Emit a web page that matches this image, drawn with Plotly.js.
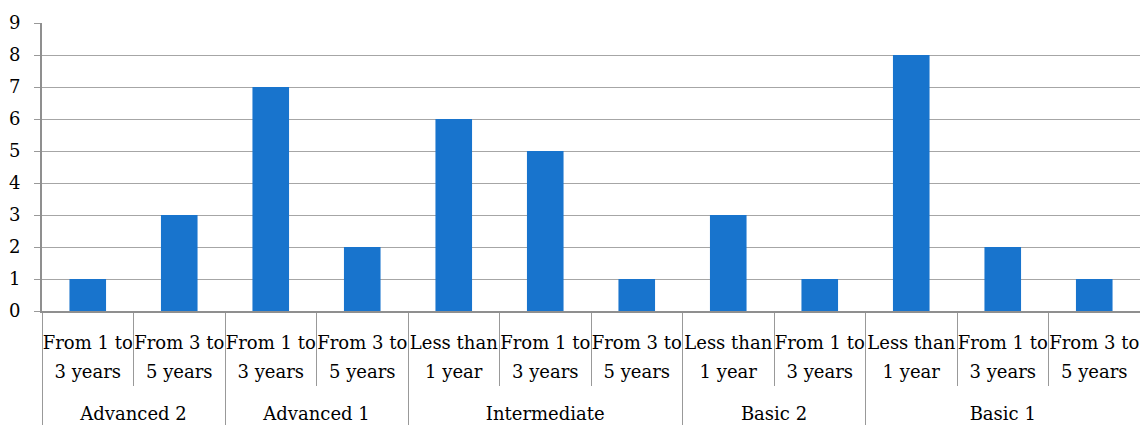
<!DOCTYPE html>
<html>
<head>
<meta charset="utf-8">
<script src="https://cdn.plot.ly/plotly-3.0.1.min.js"></script>
<style>html,body{margin:0;padding:0;background:#fff;overflow:hidden}#chart{width:1140px;height:425px}</style>
</head>
<body>
<div id="chart"></div>
<script>
const groups = ["Advanced 2","Advanced 2","Advanced 1","Advanced 1","Intermediate","Intermediate","Intermediate","Basic 2","Basic 2","Basic 1","Basic 1","Basic 1"];
const periods = [["From 1 to","3 years"],["From 3 to","5 years"],["From 1 to","3 years"],["From 3 to","5 years"],
  ["Less than","1 year"],["From 1 to","3 years"],["From 3 to","5 years"],
  ["Less than","1 year"],["From 1 to","3 years"],
  ["Less than","1 year"],["From 1 to","3 years"],["From 3 to","5 years"]];
const counts = [1,3,7,2,6,5,1,3,1,8,2,1];
const yTicks = [0,1,2,3,4,5,6,7,8,9];

const fontFamily = "DejaVu Serif, serif";
const TXT = 18;      // rendered text size
const NOMINAL = 22;  // nominal size -> Plotly line spacing ~28px

// Two style spellings render identically; the second keeps Plotly's multicategory
// ordering identical to the reference (Less than before From ... in later groups).
function sp(t, alt) { return '<span style="font-size:' + TXT + 'px' + (alt ? ';' : '') + '">' + t + '</span>'; }
// group labels sit one line lower, as in the reference
const level1 = groups.map(g => '<br>' + sp(g));
const level2 = periods.map((p, i) => {
  const alt = !groups[i].startsWith("Advanced");
  return sp(p[0], alt) + '<br>' + sp(p[1], alt);
});

Plotly.newPlot("chart", [{
  type: "bar",
  x: [level1, level2],
  y: counts,
  marker: {color: "#1874CD"},
  hoverinfo: "skip"
}], {
  width: 1140, height: 425,
  margin: {l: 42, r: 0, t: 23, b: 114},
  bargap: 0.6,
  showlegend: false,
  paper_bgcolor: "#fff", plot_bgcolor: "#fff",
  font: {family: fontFamily, size: 18, color: "#000"},
  xaxis: {
    type: "multicategory",
    tickson: "boundaries",
    tickangle: 0,
    ticks: "outside", ticklen: 73, tickwidth: 1, tickcolor: "#999",
    showline: true, linecolor: "#8f8f8f", linewidth: 2,
    showdividers: true, dividercolor: "#999", dividerwidth: 1,
    showgrid: false,
    ticklabelstandoff: 10,
    tickfont: {family: fontFamily, size: NOMINAL, color: "#000"}
  },
  yaxis: {
    range: [0, 9], tickvals: yTicks, ticktext: yTicks.map(String),
    ticks: "outside", ticklen: 6, tickcolor: "#999", tickwidth: 1,
    showline: true, linecolor: "#8f8f8f", linewidth: 2,
    showgrid: true, gridcolor: "#a6a6a6", gridwidth: 1,
    zeroline: false,
    ticklabelstandoff: 10,
    tickfont: {family: fontFamily, size: 18, color: "#000"}
  }
}, {staticPlot: true, displayModeBar: false});
</script>
</body>
</html>
